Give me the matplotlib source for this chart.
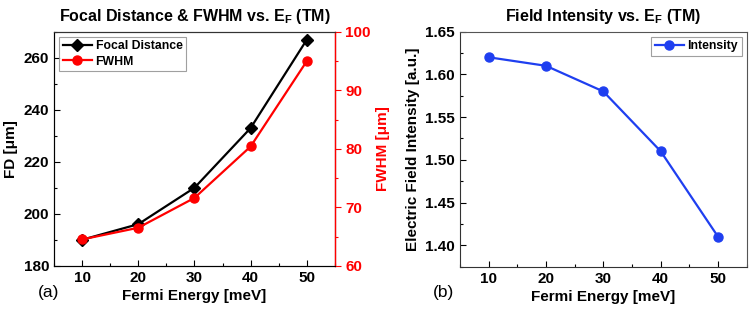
import matplotlib
matplotlib.use("Agg")
import matplotlib.pyplot as plt
from matplotlib.ticker import MultipleLocator

plt.rcParams['font.family'] = ['Liberation Sans', 'DejaVu Sans']
plt.rcParams['font.weight'] = 'bold'
plt.rcParams['mathtext.fontset'] = 'custom'
plt.rcParams['mathtext.rm'] = 'Liberation Sans:bold'
plt.rcParams['mathtext.bf'] = 'Liberation Sans:bold'
plt.rcParams['mathtext.default'] = 'bf'

energy = [10, 20, 30, 40, 50]
focal_distance = [190, 196, 210, 233, 267]
fwhm = [64.5, 66.5, 71.6, 80.4, 95.0]
intensity = [1.62, 1.61, 1.58, 1.51, 1.41]

RED = '#ff0000'
BLUE = '#1f3ff0'
TICK_FS = 11
LABEL_FS = 11
TITLE_FS = 11.5
LEG_FS = 8.8

fig = plt.figure(figsize=(7.49, 3.13), dpi=100)

# ---- Panel (a)
ax1 = fig.add_axes([0.0721, 0.151, 0.375, 0.747])
ax2 = ax1.twinx()
l1, = ax1.plot(energy, focal_distance, color='black', marker='D', markersize=6,
               linewidth=1.6, label='Focal Distance')
l2, = ax2.plot(energy, fwhm, color=RED, marker='o', markersize=6.5,
               linewidth=1.6, label='FWHM')
ax1.set_xlim(5, 55)
ax1.set_ylim(180, 270)
ax2.set_ylim(60, 100)
ax1.xaxis.set_major_locator(MultipleLocator(10))
ax1.xaxis.set_minor_locator(MultipleLocator(5))
ax1.yaxis.set_major_locator(MultipleLocator(20))
ax1.yaxis.set_minor_locator(MultipleLocator(10))
ax2.yaxis.set_major_locator(MultipleLocator(10))
ax2.yaxis.set_minor_locator(MultipleLocator(5))
ax1.tick_params(axis='both', which='major', direction='in', length=4, labelsize=TICK_FS, width=0.8)
ax1.tick_params(axis='both', which='minor', direction='in', length=2.5, width=0.8)
ax1.tick_params(axis='y', which='both', right=False)
ax2.tick_params(axis='y', which='major', direction='out', length=4, labelsize=TICK_FS,
                colors=RED, width=0.8)
ax2.tick_params(axis='y', which='minor', direction='out', length=2.5, colors=RED, width=0.8)
ax2.spines['right'].set_color(RED)
ax2.spines['right'].set_linewidth(1.0)
for sp in ['left', 'bottom', 'top']:
    ax1.spines[sp].set_color('#333333')
ax2.spines['top'].set_color('#333333')
ax1.set_xlabel('Fermi Energy [meV]', fontsize=LABEL_FS, fontweight='bold', labelpad=3)
ax1.set_ylabel('FD [μm]', fontsize=LABEL_FS, fontweight='bold', labelpad=4)
ax2.set_ylabel('FWHM [μm]', fontsize=LABEL_FS, fontweight='bold', color=RED, labelpad=4)
ax1.set_title(r'Focal Distance & FWHM vs. E$_{F}$ (TM)', fontsize=TITLE_FS, fontweight='bold', pad=8)
leg = ax1.legend(handles=[l1, l2], loc='upper left', fontsize=LEG_FS, frameon=True,
                 fancybox=False, edgecolor='#888888', borderpad=0.3, handlelength=2.4,
                 handletextpad=0.3, labelspacing=0.25, borderaxespad=0.4)
leg.get_frame().set_linewidth(0.8)
fig.text(38 / 749, 1 - 293 / 313, '(a)', fontsize=12.5, fontweight='normal', va='center', ha='left')

# ---- Panel (b)
ax3 = fig.add_axes([0.614, 0.148, 0.383, 0.751])
l3, = ax3.plot(energy, intensity, color=BLUE, marker='o', markersize=6.5,
               linewidth=1.6, label='Intensity')
ax3.set_xlim(5, 55)
ax3.set_ylim(1.375, 1.65)
ax3.xaxis.set_major_locator(MultipleLocator(10))
ax3.xaxis.set_minor_locator(MultipleLocator(5))
ax3.yaxis.set_major_locator(MultipleLocator(0.05))
ax3.yaxis.set_minor_locator(MultipleLocator(0.025))
ax3.yaxis.set_major_formatter(matplotlib.ticker.FormatStrFormatter('%.2f'))
ax3.tick_params(axis='both', which='major', direction='in', length=4, labelsize=TICK_FS, width=0.8)
ax3.tick_params(axis='both', which='minor', direction='in', length=2.5, width=0.8)
for sp in ['left', 'bottom']:
    ax3.spines[sp].set_color('#333333')
for sp in ['top', 'right']:
    ax3.spines[sp].set_color('#555555')
ax3.set_xlabel('Fermi Energy [meV]', fontsize=LABEL_FS, fontweight='bold', labelpad=3)
ax3.set_ylabel('Electric Field Intensity [a.u.]', fontsize=LABEL_FS, fontweight='bold', labelpad=4)
ax3.set_title(r'Field Intensity vs. E$_{F}$ (TM)', fontsize=TITLE_FS, fontweight='bold', pad=8)
leg3 = ax3.legend(handles=[l3], loc='upper right', fontsize=LEG_FS, frameon=True,
                  fancybox=False, edgecolor='#888888', borderpad=0.3, handlelength=2.4,
                  handletextpad=0.3, borderaxespad=0.4)
leg3.get_frame().set_linewidth(0.8)
fig.text(433 / 749, 1 - 293 / 313, '(b)', fontsize=12.5, fontweight='normal', va='center', ha='left')

fig.savefig('out.png', dpi=100)
